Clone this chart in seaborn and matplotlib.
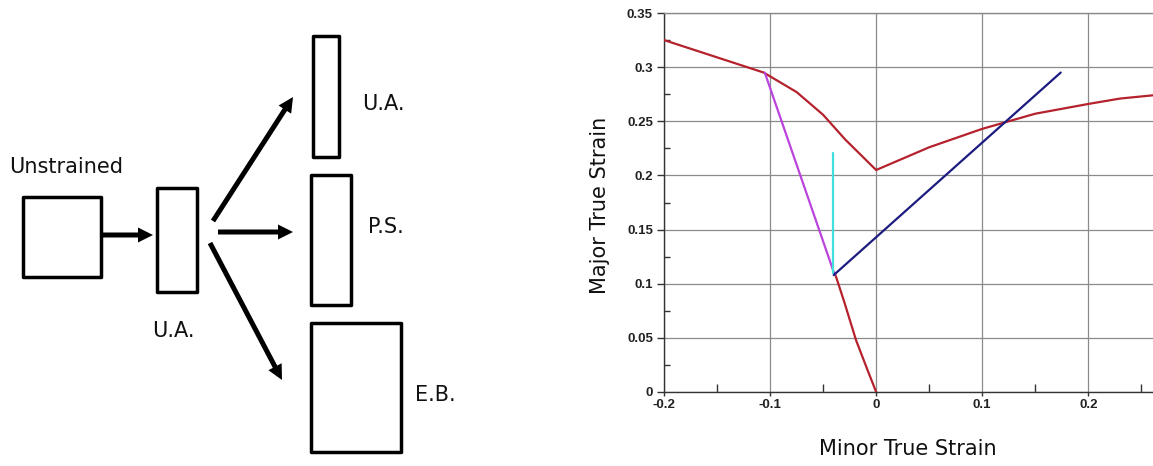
import matplotlib
matplotlib.use("Agg")
import matplotlib.pyplot as plt
from matplotlib.patches import Rectangle
import numpy as np
import pandas as pd
import seaborn as sns

# ---------------- data: forming limit plot ----------------
red_upper_x = [-0.2, -0.106, -0.075, -0.05, -0.029, 0.0, 0.05, 0.1, 0.15, 0.2, 0.23, 0.261]
red_upper_y = [0.325, 0.295, 0.277, 0.256, 0.233, 0.205, 0.226, 0.243, 0.257, 0.266, 0.271, 0.274]
red_lower_x = [-0.039, -0.03, -0.019, -0.008, 0.0]
red_lower_y = [0.110, 0.083, 0.048, 0.020, 0.0]
magenta_x = [-0.105, -0.039]
magenta_y = [0.295, 0.108]
cyan_x = [-0.0405, -0.0405]
cyan_y = [0.221, 0.110]
navy_x = [-0.040, 0.174]
navy_y = [0.108, 0.295]

x_ticks = [-0.2, -0.1, 0.0, 0.1, 0.2]
x_tick_labels = ["-0.2", "-0.1", "0", "0.1", "0.2"]
y_ticks = [0.0, 0.05, 0.1, 0.15, 0.2, 0.25, 0.3, 0.35]
y_tick_labels = ["0", "0.05", "0.1", "0.15", "0.2", "0.25", "0.3", "0.35"]
x_minor = [-0.15, -0.05, 0.05, 0.15, 0.25]
y_minor = [0.025, 0.075, 0.125, 0.175, 0.225, 0.275, 0.325]

# ---------------- data: strain path diagram ----------------
box_x = [23, 157, 313, 311, 311]
box_y = [197, 188, 36, 175, 323]
box_w = [78, 40, 26, 40, 90]
box_h = [80, 104, 121, 130, 129]
label_text = ["Unstrained", "U.A.", "U.A.", "P.S.", "E.B."]
label_x = [9, 152, 362, 368, 415]
label_y = [173, 337, 110, 233, 401]
arrow_x0 = [103, 213, 218, 210]
arrow_y0 = [235, 221, 232, 243]
arrow_x1 = [153, 293, 293, 282]
arrow_y1 = [235, 97, 232, 380]

sns.set_theme(style="white")
plt.rcParams["font.family"] = ["DejaVu Sans"]

W, H = 1153, 466
fig = plt.figure(figsize=(W / 100, H / 100), dpi=100)
fig.patch.set_facecolor("white")

# ---------------- diagram ----------------
dax = fig.add_axes([0, 0, 600 / W, 1])
dax.set_xlim(0, 600)
dax.set_ylim(H, 0)
dax.axis("off")
for bx, by, bw, bh in zip(box_x, box_y, box_w, box_h):
    dax.add_patch(Rectangle((bx, by), bw, bh, fill=False, edgecolor="black",
                            linewidth=2.5, joinstyle="round"))
for x0, y0, x1, y1 in zip(arrow_x0, arrow_y0, arrow_x1, arrow_y1):
    dax.arrow(x0, y0, x1 - x0, y1 - y0, width=5, head_width=15, head_length=15,
              length_includes_head=True, color="black", linewidth=0)
for t, lx, ly in zip(label_text, label_x, label_y):
    dax.text(lx, ly, t, fontsize=15, ha="left", va="baseline", color="#111111")

# ---------------- plot ----------------
ax = fig.add_axes([664 / W, 1 - 392 / H, 1 - 664 / W, (392 - 13) / H])
ax.set_facecolor("white")
series = [
    (red_upper_x, red_upper_y, "#b5222e"),
    (red_lower_x, red_lower_y, "#b5222e"),
    (magenta_x, magenta_y, "#bb44dd"),
    (cyan_x, cyan_y, "#40dede"),
    (navy_x, navy_y, "#1c1c80"),
]
for xs, ys, c in series:
    df = pd.DataFrame({"x": xs, "y": ys})
    sns.lineplot(data=df, x="x", y="y", color=c, sort=False, estimator=None,
                 linewidth=1.6, ax=ax, zorder=3)

ax.set_xlim(-0.2, 0.261)
ax.set_ylim(0, 0.35)
ax.set_xticks(x_ticks)
ax.set_xticklabels(x_tick_labels)
ax.set_yticks(y_ticks)
ax.set_yticklabels(y_tick_labels)
ax.set_xticks(x_minor, minor=True)
ax.set_yticks(y_minor, minor=True)
ax.grid(True, which="major", color="#8a8a8a", linewidth=0.9)
ax.set_axisbelow(True)
for lbl in ax.get_xticklabels() + ax.get_yticklabels():
    lbl.set_fontfamily("Liberation Sans")
    lbl.set_fontweight("bold")
    lbl.set_fontsize(9.5)
    lbl.set_color("#222222")
ax.tick_params(axis="x", which="major", direction="out", length=3, width=1,
               color="#333333", pad=2, bottom=True)
ax.tick_params(axis="x", which="minor", direction="in", length=6, width=1,
               color="#333333", bottom=True)
ax.tick_params(axis="y", which="major", direction="out", length=5, width=1,
               color="#333333", pad=3, left=True)
ax.tick_params(axis="y", which="minor", direction="in", length=4, width=1,
               color="#333333", left=True)
for side in ["left", "bottom", "top"]:
    ax.spines[side].set_visible(True)
    ax.spines[side].set_color("#333333")
    ax.spines[side].set_linewidth(1.0)
ax.spines["top"].set_color("#8a8a8a")
ax.spines["right"].set_visible(False)
ax.set_xlabel("")
ax.set_ylabel("")

fig.text(908 / W, 1 - 449 / H, "Minor True Strain", fontsize=15, ha="center",
         va="center", color="#111111")
fig.text(600 / W, 1 - 205 / H, "Major True Strain", fontsize=15, ha="center",
         va="center", rotation=90, color="#111111")

fig.savefig("out.png", dpi=100, facecolor="white")
